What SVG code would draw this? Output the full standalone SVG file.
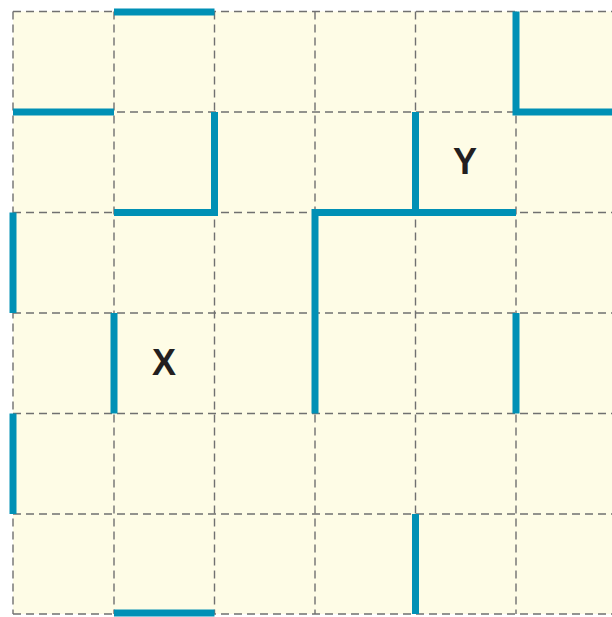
<svg xmlns="http://www.w3.org/2000/svg" width="612" height="617" viewBox="0 0 612 617">
<style>
.grid{stroke:#707070;stroke-width:1.4;stroke-dasharray:8 5;fill:none}
.wall{stroke:#0090b5;stroke-width:7;fill:none;stroke-linecap:butt;stroke-linejoin:miter}
.lbl{font-family:"Liberation Sans",Arial,sans-serif;font-size:36px;font-weight:bold;fill:#231f20;text-anchor:middle}
</style>
<rect x="13" y="11.5" width="599" height="602.5" fill="#fefce6"/>
<g id="grid">
<path class="grid" d="M13,11.5H612M13,112H612M13,212.5H612M13,313H612M13,413.5H612M13,514H612M13,614H612"/>
<path class="grid" d="M13,11.5V614M114,11.5V614M214.5,11.5V614M315,11.5V614M415.5,11.5V614M516,11.5V614"/>
</g>
<g id="walls">
<path class="wall" d="M114,12H214.5"/>
<path class="wall" d="M13,112H114"/>
<path class="wall" d="M214.5,112V212.5H114"/>
<path class="wall" d="M13,212.5V313"/>
<path class="wall" d="M114,313V413.5"/>
<path class="wall" d="M315,413.5V212.5H516"/>
<path class="wall" d="M415.5,112V212.5"/>
<path class="wall" d="M516,11.5V112H612"/>
<path class="wall" d="M516,313V413.5"/>
<path class="wall" d="M13,413.5V514"/>
<path class="wall" d="M415.5,514V614"/>
<path class="wall" d="M114,613H214.5"/>
</g>
<g id="labelX"><text class="lbl" x="164" y="375">X</text></g>
<g id="labelY"><text class="lbl" x="465" y="174">Y</text></g>
</svg>
